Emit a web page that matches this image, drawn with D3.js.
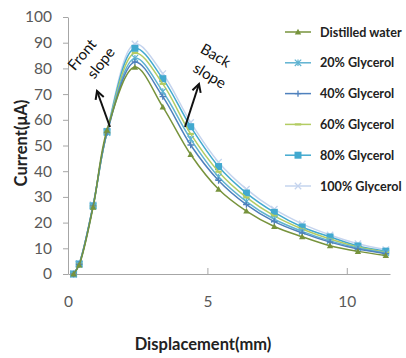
<!DOCTYPE html>
<html><head><meta charset="utf-8">
<script src="https://cdn.jsdelivr.net/npm/d3@7"></script>
<style>body{margin:0;background:#fff}svg{display:block}</style>
</head><body>
<svg id="c" width="406" height="358"></svg>
<script>
const xValues = [0.2, 0.4, 0.9, 1.4, 2.4, 3.4, 4.4, 5.4, 6.4, 7.4, 8.4, 9.4, 10.4, 11.4];
const seriesNames = ["Distilled water", "20% Glycerol", "40% Glycerol", "60% Glycerol", "80% Glycerol", "100% Glycerol"];
const distilled = [0, 3.5, 26, 56, 80.5, 65, 46.5, 33, 24.5, 18.5, 14.5, 11, 8.8, 7.2];
const gly20 = [0, 3.8, 26.5, 55, 84, 71, 52.5, 37.8, 28.2, 21.3, 16.6, 12.9, 10.1, 8.2];
const gly40 = [0, 3.8, 26.5, 55, 82.5, 69, 50.2, 36.4, 27, 20.4, 16, 12.4, 9.7, 7.9];
const gly60 = [0, 3.9, 26.5, 55, 86, 74, 54.5, 39.8, 29.8, 22.6, 17.5, 13.6, 10.5, 8.5];
const gly80 = [0, 3.9, 26.5, 55.4, 87.8, 76, 57.3, 41.8, 31.5, 24, 18.3, 14.4, 10.9, 8.9];
const gly100 = [0, 4, 27, 55.6, 89.5, 78, 59, 43.5, 33, 25.2, 19.5, 15.2, 11.8, 9.5];
const yTicks = [0, 10, 20, 30, 40, 50, 60, 70, 80, 90, 100];
const xTicks = [0, 5, 10];
const colors = ["#77933c", "#5fb3d1", "#4f81bd", "#b3cc63", "#42a9cf", "#c5d4ee"];
const markers = ["triangle", "asterisk", "plus", "dash", "square", "cross"];
const allSeries = [distilled, gly20, gly40, gly60, gly80, gly100];

const svg = d3.select("#c");
const x = d3.scaleLinear().domain([0, 11.55]).range([68, 390]);
const y = d3.scaleLinear().domain([0, 100]).range([274, 17]);
const axisColor = "#a6a6a6", labelColor = "#595959";
const font = "Lato, 'Open Sans', sans-serif";

// Y axis
const yAxis = svg.append("g").attr("transform", `translate(${x(0)},0)`)
  .call(d3.axisLeft(y).tickValues(yTicks).tickSize(5).tickPadding(11).tickSizeOuter(0));
yAxis.select(".domain").attr("stroke", axisColor);
yAxis.selectAll(".tick line").attr("stroke", axisColor);
yAxis.selectAll(".tick text").attr("fill", labelColor).attr("font-size", 15.5).attr("font-family", font);

// X axis
const xAxis = svg.append("g").attr("transform", `translate(0,${y(0)})`)
  .call(d3.axisBottom(x).tickValues(xTicks).tickSize(-6).tickPadding(22).tickSizeOuter(0));
xAxis.select(".domain").attr("stroke", axisColor);
xAxis.selectAll(".tick line").attr("stroke", axisColor);
xAxis.selectAll(".tick text").attr("fill", labelColor).attr("font-size", 15.5).attr("font-family", font);

// Axis titles
svg.append("text").attr("x", 203).attr("y", 350).attr("text-anchor", "middle")
  .attr("font-family", font).attr("font-weight", "bold").attr("font-size", 16.5).attr("fill", "#222")
  .text("Displacement(mm)");
svg.append("text").attr("transform", "translate(27,143) rotate(-90)").attr("text-anchor", "middle")
  .attr("font-family", font).attr("font-weight", "bold").attr("font-size", 16.5).attr("fill", "#222")
  .text("Current(μA)");

function drawMarker(g, type, color, cx, cy) {
  const s = 3.2;
  if (type === "triangle") {
    g.append("path").attr("d", `M${cx},${cy - s}L${cx + s},${cy + s * 0.8}L${cx - s},${cy + s * 0.8}Z`).attr("fill", color);
  } else if (type === "square") {
    g.append("rect").attr("x", cx - 3.5).attr("y", cy - 3.5).attr("width", 7).attr("height", 7).attr("fill", color);
  } else if (type === "plus") {
    g.append("path").attr("d", `M${cx - s},${cy}H${cx + s}M${cx},${cy - s}V${cy + s}`).attr("stroke", color).attr("stroke-width", 1.3);
  } else if (type === "dash") {
    g.append("path").attr("d", `M${cx - s},${cy}H${cx + s}`).attr("stroke", color).attr("stroke-width", 2.2);
  } else if (type === "cross") {
    g.append("path").attr("d", `M${cx - s},${cy - s}L${cx + s},${cy + s}M${cx - s},${cy + s}L${cx + s},${cy - s}`).attr("stroke", color).attr("stroke-width", 1.3);
  } else if (type === "asterisk") {
    g.append("path").attr("d", `M${cx - s},${cy - s}L${cx + s},${cy + s}M${cx - s},${cy + s}L${cx + s},${cy - s}M${cx},${cy - s}V${cy + s}`).attr("stroke", color).attr("stroke-width", 1.2);
  }
}

const line = d3.line().x(d => x(d[0])).y(d => y(d[1])).curve(d3.curveCatmullRom.alpha(0.5));
const drawOrder = [5, 4, 3, 1, 2, 0];
drawOrder.forEach(i => {
  const pts = xValues.map((xv, j) => [xv, allSeries[i][j]]);
  const g = svg.append("g");
  g.append("path").attr("d", line(pts)).attr("fill", "none").attr("stroke", colors[i]).attr("stroke-width", 1.5);
  pts.forEach(p => drawMarker(g, markers[i], colors[i], x(p[0]), y(p[1])));
});

// Legend
const legY0 = 32, legStep = 30.8;
seriesNames.forEach((name, i) => {
  const ly = legY0 + i * legStep;
  const g = svg.append("g");
  g.append("line").attr("x1", 285).attr("x2", 311).attr("y1", ly).attr("y2", ly).attr("stroke", colors[i]).attr("stroke-width", 1.5);
  drawMarker(g, markers[i], colors[i], 298, ly);
  g.append("text").attr("x", 320).attr("y", ly + 4.5).attr("font-family", font).attr("font-weight", "bold")
    .attr("font-size", 12.6).attr("fill", "#222").text(name);
});

// Annotations
const annFont = 15;
svg.append("text").attr("transform", "translate(86,58) rotate(-50)").attr("text-anchor", "middle")
  .attr("font-family", font).attr("font-size", annFont).attr("fill", "#111").text("Front");
svg.append("text").attr("transform", "translate(105,66) rotate(-52)").attr("text-anchor", "middle")
  .attr("font-family", font).attr("font-size", annFont).attr("fill", "#111").text("slope");
svg.append("text").attr("transform", "translate(213,60) rotate(30)").attr("text-anchor", "middle")
  .attr("font-family", font).attr("font-size", annFont).attr("fill", "#111").text("Back");
svg.append("text").attr("transform", "translate(207,80) rotate(31)").attr("text-anchor", "middle")
  .attr("font-family", font).attr("font-size", annFont).attr("fill", "#111").text("slope");

function arrow(x1, y1, x2, y2) {
  svg.append("line").attr("x1", x1).attr("y1", y1).attr("x2", x2).attr("y2", y2).attr("stroke", "#111").attr("stroke-width", 2);
  const a = Math.atan2(y2 - y1, x2 - x1), L = 9, w = 0.5;
  const p1 = [x2 - L * Math.cos(a - w), y2 - L * Math.sin(a - w)];
  const p2 = [x2 - L * Math.cos(a + w), y2 - L * Math.sin(a + w)];
  svg.append("path").attr("d", `M${p1}L${x2},${y2}L${p2}`).attr("fill", "none").attr("stroke", "#111").attr("stroke-width", 2);
}
arrow(110, 127, 97, 91);
arrow(185, 127, 199, 84);
</script>
</body></html>
